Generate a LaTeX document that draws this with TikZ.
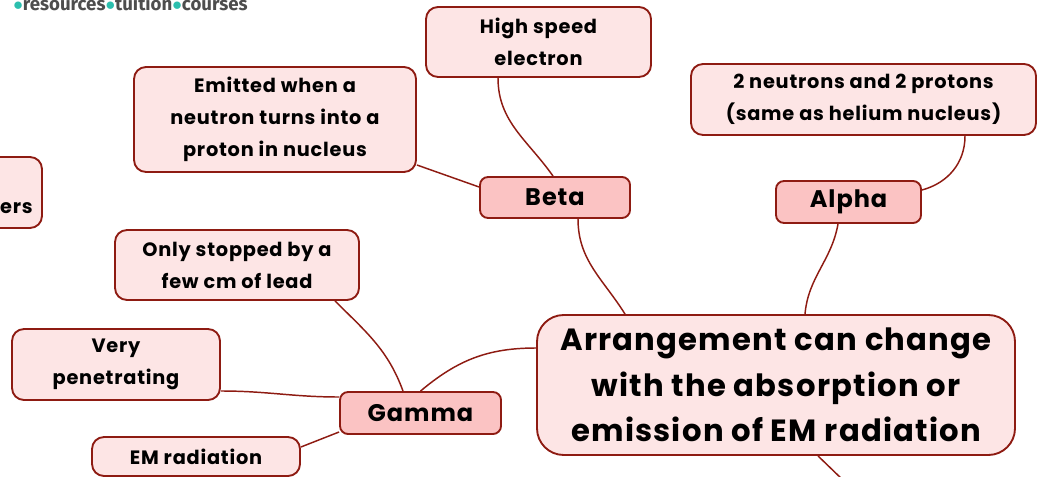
\documentclass[tikz,border=0pt]{standalone}
\usepackage{fontspec}
\usetikzlibrary{calc}
\setmainfont{Poppins}[LetterSpace=4]
\newfontfamily\logofont{Fira Sans}
\definecolor{mapred}{HTML}{8E1B12}
\definecolor{lightpink}{HTML}{FDE5E5}
\definecolor{midpink}{HTML}{FBC3C3}
\definecolor{logogrey}{HTML}{4D4D4D}
\definecolor{logoteal}{HTML}{2CBFAE}

\begin{document}
\begin{tikzpicture}[x=0.75pt,y=-0.75pt,
    leafbox/.style={draw=mapred, fill=lightpink, line width=1.4pt, rounded corners=9pt,
      align=center, inner sep=0pt, font=\fontsize{14.5}{24}\selectfont\bfseries},
    branchbox/.style={draw=mapred, fill=midpink, line width=1.4pt, rounded corners=6pt,
      align=center, inner sep=0pt, font=\fontsize{18}{24}\selectfont\bfseries},
    mainbox/.style={draw=mapred, fill=lightpink, line width=1.4pt, rounded corners=20pt,
      align=center, inner sep=0pt, font=\fontsize{23}{34}\selectfont\bfseries},
    link/.style={draw=mapred, line width=1.1pt}]
    % Frame
    \useasboundingbox (0,0) rectangle (1041,477);
    \clip (0,0) rectangle (1041,477);
    \fill[white] (0,0) rectangle (1041,477);

    % Logo (cut off at top)
    \node[anchor=base west, inner sep=0pt, font=\logofont\fontsize{14}{14}\selectfont\bfseries, text=logogrey]
      (logo) at (13,10.5) {{\color{logoteal}$\bullet$}resources{\color{logoteal}$\bullet$}tuition{\color{logoteal}$\bullet$}courses};

    % Main topic
    \node[mainbox, minimum width=0.75*478, minimum height=0.75*140] (central) at (776,385)
      {Arrangement can change\\with the absorption or\\emission of EM radiation};

    % Branches
    \node[branchbox, minimum width=0.75*150, minimum height=0.75*41] (beta) at (555,197.5) {Beta};
    \node[branchbox, minimum width=0.75*145, minimum height=0.75*42] (alpha) at (848.5,202) {Alpha};
    \node[branchbox, minimum width=0.75*161, minimum height=0.75*42] (gamma) at (420.5,413) {Gamma};

    % Leaves
    \node[leafbox, minimum width=0.75*225, minimum height=0.75*70] (electron) at (538.5,42) {High speed\\electron};
    \node[leafbox, minimum width=0.75*282, minimum height=0.75*105] (emitted) at (275,119.5)
      {Emitted when a\\neutron turns into a\\proton in nucleus};
    \node[leafbox, minimum width=0.75*345, minimum height=0.75*71] (neutrons) at (863.5,99.5)
      {2 neutrons and 2 protons\\(same as helium nucleus)};
    \node[leafbox, minimum width=0.75*244, minimum height=0.75*70] (stopped) at (237,265)
      {Only stopped by a\\few cm of lead};
    \node[leafbox, minimum width=0.75*208, minimum height=0.75*71] (penetrating) at (116,364.5)
      {Very\\penetrating};
    \node[leafbox, minimum width=0.75*208, minimum height=0.75*39] (emrad) at (196,456.5) {EM radiation};
    \node[leafbox, minimum width=0.75*124, minimum height=0.75*71] (outer) at (-20,192.5) {};
    \node[anchor=east, inner sep=0pt, font=\fontsize{14.5}{24}\selectfont\bfseries] (outertext) at (33,208) {ers};

    % Off-frame end of the bottom branch
    \coordinate (offframe) at (845,482);

    % Connectors
    \draw[link] ($(electron.south)+(-40.5,0)$) to[out=-90,in=125] ($(beta.north)+(-2,0)$);
    \draw[link] ($(emitted.east)+(0,45.5)$) -- ($(beta.west)+(0,-10.5)$);
    \draw[link] ($(neutrons.south)+(101.5,0)$) to[out=-90,in=15] ($(alpha.east)+(0,-12)$);
    \draw[link] ($(beta.south)+(23,0)$) to[out=-90,in=122] ($(central.north)+(-151,0)$);
    \draw[link] ($(alpha.south)+(-10.5,0)$) to[out=-100,in=85] ($(central.north)+(29,0)$);
    \draw[link] ($(stopped.south)+(98,0)$) to[out=-45,in=110] ($(gamma.north)+(-17.5,0)$);
    \draw[link] ($(penetrating.east)+(0,26.5)$) to[out=0,in=180] ($(gamma.west)+(0,-16)$);
    \draw[link] ($(emrad.east)+(0,-9.5)$) -- ($(gamma.west)+(0,19)$);
    \draw[link] (gamma.north) to[out=40,in=180] ($(central.west)+(0,-37)$);
    \draw[link] ($(central.south)+(42,0)$) -- (offframe);
\end{tikzpicture}
\end{document}
